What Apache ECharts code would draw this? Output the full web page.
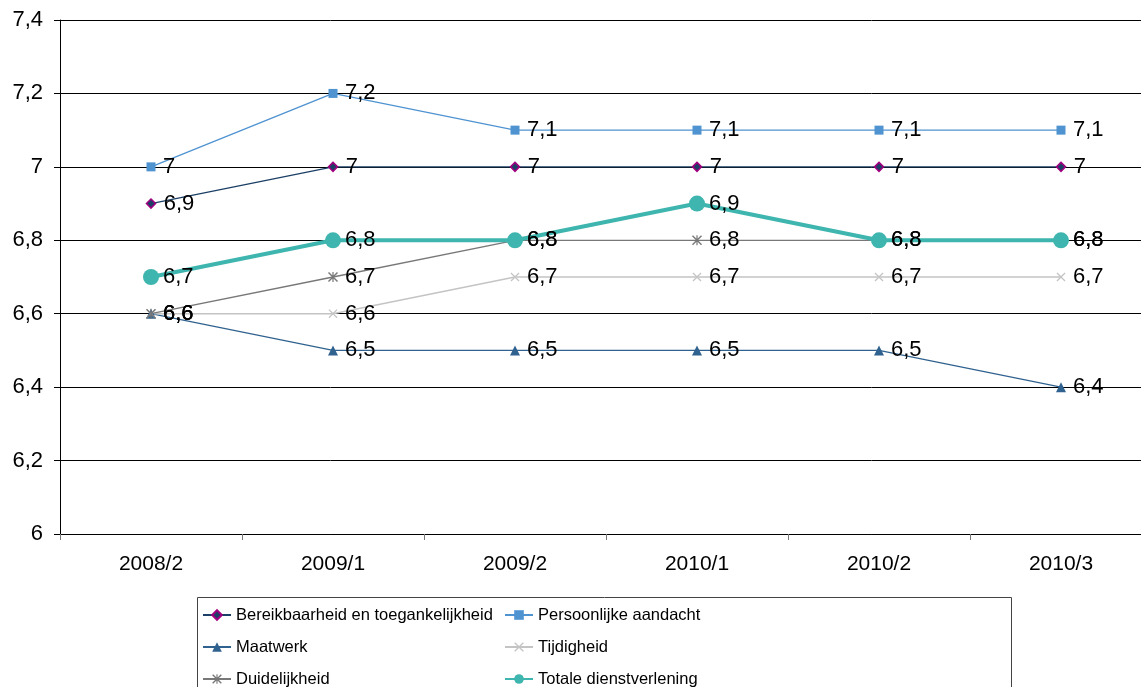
<!DOCTYPE html>
<html>
<head>
<meta charset="utf-8">
<script src="https://cdn.jsdelivr.net/npm/echarts@6/dist/echarts.min.js"></script>
<style>
  html, body { margin: 0; padding: 0; background: #fff; }
  #main { width: 1141px; height: 687px; }
</style>
</head>
<body>
<div id="main"></div>
<script>
// categorieen en waarden
var periods = ["2008/2", "2009/1", "2009/2", "2010/1", "2010/2", "2010/3"];
var bereikbaarheid = [6.9, 7, 7, 7, 7, 7];
var persoonlijk = [7, 7.2, 7.1, 7.1, 7.1, 7.1];
var maatwerk = [6.6, 6.5, 6.5, 6.5, 6.5, 6.4];
var tijdigheid = [6.6, 6.6, 6.7, 6.7, 6.7, 6.7];
var duidelijkheid = [6.6, 6.7, 6.8, 6.8, 6.8, 6.8];
var totaal = [6.7, 6.8, 6.8, 6.9, 6.8, 6.8];

var FONT = "Liberation Sans, Arial, sans-serif";
var xPath = "path://M0,1L1,0L5,4L9,0L10,1L6,5L10,9L9,10L5,6L1,10L0,9L4,5Z";
var starPath = "path://M0,1L1,0L5,4L9,0L10,1L6,5L10,9L9,10L5,6L1,10L0,9L4,5Z M4.4,0L5.6,0L5.6,10L4.4,10Z";

function komma(v) {
  return String(Math.round(v * 10) / 10).replace(".", ",");
}

function makeSeries(name, data, color, symbol, size, width, extra) {
  var s = {
    name: name,
    type: "line",
    data: data,
    symbol: symbol,
    symbolSize: size,
    showAllSymbol: true,
    lineStyle: { color: color, width: width },
    itemStyle: { color: color },
    label: {
      show: true,
      position: "right",
      distance: 12 - size / 2,
      color: "#000",
      fontFamily: FONT,
      fontSize: 22,
      formatter: function (p) { return komma(p.value); }
    },
    emphasis: { disabled: true },
    animation: false
  };
  if (extra) s.itemStyle = Object.assign(s.itemStyle, extra);
  return s;
}

var legendText = { color: "#000", fontFamily: FONT, fontSize: 16.5, lineHeight: 22 };

var myChart = echarts.init(document.getElementById("main"));
myChart.setOption({
  grid: { left: 60, top: 20, width: 1092, height: 514, containLabel: false, outerBoundsMode: "none" },
  xAxis: {
    type: "category",
    data: periods,
    boundaryGap: true,
    axisLine: { lineStyle: { color: "#000", width: 1 } },
    axisTick: { show: true, length: 6, lineStyle: { color: "#777" } },
    axisLabel: { color: "#000", fontFamily: FONT, fontSize: 21, margin: 20 }
  },
  yAxis: {
    type: "value",
    min: 6,
    max: 7.4,
    interval: 0.2,
    axisLine: { show: true, lineStyle: { color: "#000", width: 1 } },
    axisTick: { show: true, length: 6, lineStyle: { color: "#000" } },
    splitLine: { lineStyle: { color: "#000", width: 1 } },
    axisLabel: {
      color: "#000", fontFamily: FONT, fontSize: 22, margin: 17,
      formatter: function (v) { return komma(v); }
    }
  },
  legend: [
    {
      orient: "vertical", left: 197, top: 599, height: 150,
      itemWidth: 28, itemHeight: 12, itemGap: 10,
      textStyle: legendText,
      data: ["Bereikbaarheid en toegankelijkheid", "Maatwerk", "Duidelijkheid"]
    },
    {
      orient: "vertical", left: 499, top: 599, height: 150,
      itemWidth: 28, itemHeight: 12, itemGap: 10,
      textStyle: legendText,
      data: ["Persoonlijke aandacht", "Tijdigheid", "Totale dienstverlening"]
    }
  ],
  graphic: [{
    type: "rect",
    shape: { x: 197.5, y: 597.5, width: 814, height: 120 },
    style: { fill: "none", stroke: "#444", lineWidth: 1 },
    z: -1
  }],
  series: [
    makeSeries("Bereikbaarheid en toegankelijkheid", bereikbaarheid, "#1B3F66", "diamond", 9, 1.3,
      { borderColor: "#A0007F", borderWidth: 1.5 }),
    makeSeries("Persoonlijke aandacht", persoonlijk, "#4F93D1", "rect", 9, 1.3),
    makeSeries("Maatwerk", maatwerk, "#30628F", "triangle", 10, 1.3),
    makeSeries("Tijdigheid", tijdigheid, "#C4C4C4", xPath, 9, 1.5),
    makeSeries("Duidelijkheid", duidelijkheid, "#787878", starPath, 10, 1.3),
    makeSeries("Totale dienstverlening", totaal, "#3EB5AE", "circle", 16, 4)
  ]
});
window.addEventListener("resize", function () { myChart.resize(); });
</script>
</body>
</html>
